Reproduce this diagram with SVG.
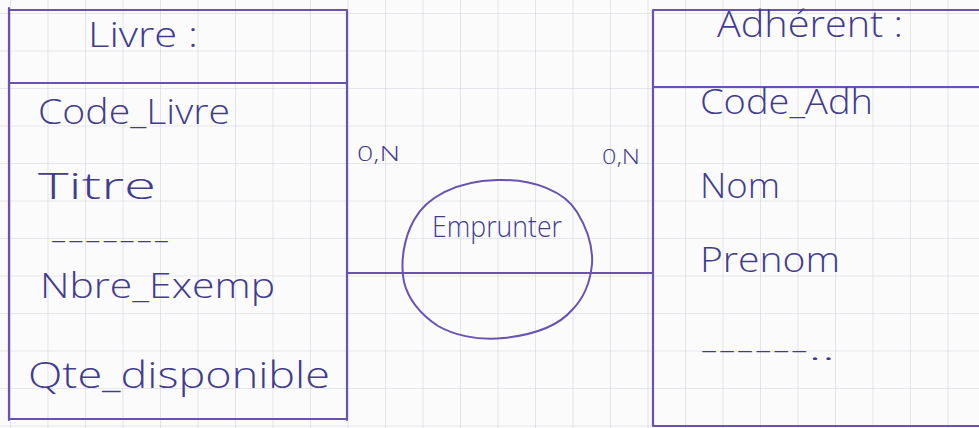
<svg xmlns="http://www.w3.org/2000/svg" width="979" height="428" viewBox="0 0 979 428">
  <defs>
    <pattern id="grid" x="10" y="13" width="37.5" height="37.5" patternUnits="userSpaceOnUse">
      <path d="M0 0H37.5M0 0V37.5" fill="none" stroke="#d2d4dc" stroke-width="1.2"/>
    </pattern>
    <style>
      .ink{fill:#433c8c;font-family:"Open Sans","Liberation Sans",sans-serif;font-weight:300}
      .box{fill:none;stroke:#6a52b0;stroke-width:2.2;stroke-linecap:round}
      .conn{fill:none;stroke:#6a52b0;stroke-width:2}
      .card{fill:#433c8c;font-family:"Open Sans","Liberation Sans",sans-serif;font-size:20px;font-weight:300}
    </style>
  </defs>
  <rect width="979" height="428" fill="#fbfbfc"/>
  <rect width="979" height="428" fill="url(#grid)"/>

  <g id="livre">
    <path class="box" d="M9 8V420M9 10H347M9 83H347M347 10V420M9 419H347"/>
    <text class="ink" x="88" y="47" font-size="34" textLength="110" lengthAdjust="spacingAndGlyphs">Livre :</text>
    <text class="ink" x="38" y="124" font-size="34" textLength="192" lengthAdjust="spacingAndGlyphs">Code_Livre</text>
    <text class="ink" x="38" y="199" font-size="36" textLength="118" lengthAdjust="spacingAndGlyphs">Titre</text>
    <text class="ink" x="50" y="250" font-size="30" textLength="120" lengthAdjust="spacingAndGlyphs">-------</text>
    <text class="ink" x="40" y="298" font-size="34" textLength="235" lengthAdjust="spacingAndGlyphs">Nbre_Exemp</text>
    <text class="ink" x="28" y="388" font-size="36" textLength="302" lengthAdjust="spacingAndGlyphs">Qte_disponible</text>
  </g>

  <g id="adherent">
    <path class="box" d="M653 10V426M653 10H979M653 87H979M653 426H979"/>
    <text class="ink" x="717" y="37" font-size="36" textLength="186" lengthAdjust="spacingAndGlyphs">Adhérent :</text>
    <text class="ink" x="700" y="114" font-size="34" textLength="173" lengthAdjust="spacingAndGlyphs">Code_Adh</text>
    <text class="ink" x="700" y="198" font-size="34" textLength="80" lengthAdjust="spacingAndGlyphs">Nom</text>
    <text class="ink" x="700" y="272" font-size="34" textLength="140" lengthAdjust="spacingAndGlyphs">Prenom</text>
    <text class="ink" x="700" y="360" font-size="30" textLength="135" lengthAdjust="spacingAndGlyphs">------..</text>
  </g>

  <g id="connectors">
    <line class="conn" x1="347" y1="273" x2="653" y2="273"/>
    <text class="card" x="357" y="161" textLength="43" lengthAdjust="spacingAndGlyphs">0,N</text>
    <text class="card" x="602" y="164" textLength="38" lengthAdjust="spacingAndGlyphs">0,N</text>
  </g>

  <g id="emprunter">
    <path class="conn" d="M497 180 C535 179 565 192 577 212 C588 230 593 248 592 264 C590 285 582 300 572 310 C560 324 540 334 504 338 C475 341 452 334 438 326 C420 314 408 298 404 282 C400 262 404 238 414 220 C426 198 455 181 497 180 Z"/>
    <text class="ink" x="432" y="237" font-size="30" textLength="130" lengthAdjust="spacingAndGlyphs">Emprunter</text>
  </g>
</svg>
